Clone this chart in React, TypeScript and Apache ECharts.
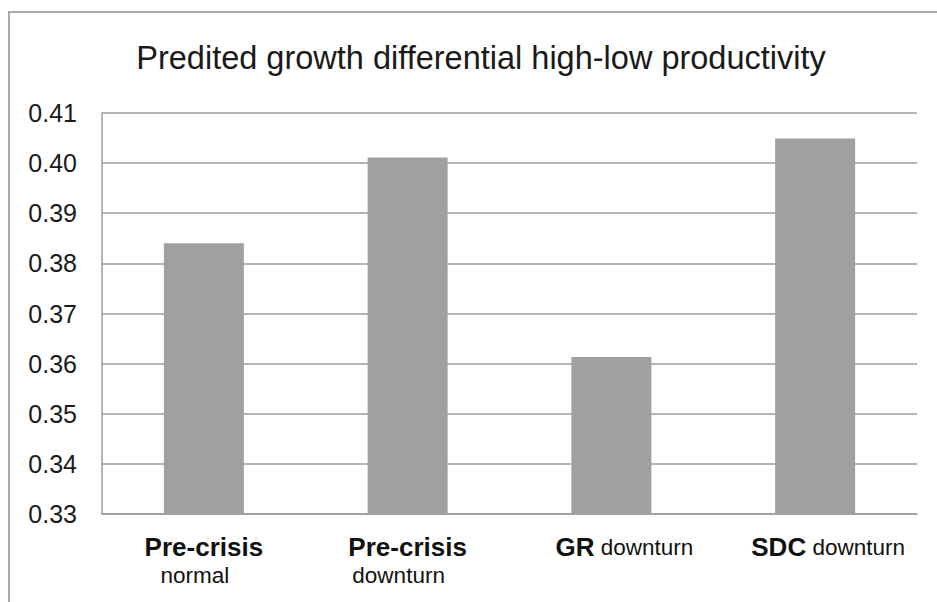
import React, { useEffect, useRef } from "react";
import * as echarts from "echarts";

const titleText = "Predited growth differential high-low productivity";
const categoriesBold = ["Pre-crisis", "Pre-crisis", "GR", "SDC"];
const categoriesRest = ["normal", "downturn", "downturn", "downturn"];
const values = [0.384, 0.4011, 0.3613, 0.4049];
const yMin = 0.33;
const yMax = 0.41;
const yStep = 0.01;

const FONT = "'Liberation Sans', Arial, Helvetica, sans-serif";
const GRAY = "#a0a0a0";
const LINE = "#9c9c9c";

export default function App() {
  const ref = useRef<HTMLDivElement>(null);
  useEffect(() => {
    if (!ref.current) return;
    const chart = echarts.init(ref.current, undefined, { renderer: "svg" });
    const cats = categoriesBold.map((b, i) => `${b}|${categoriesRest[i]}`);
    chart.setOption({
      animation: false,
      backgroundColor: "#ffffff",
      textStyle: { fontFamily: FONT },
      graphic: [
        {
          type: "rect",
          shape: { x: 9, y: 12, width: 1000, height: 700 },
          style: { fill: "none", stroke: "#a8a8a8", lineWidth: 2 },
          silent: true,
        },
        {
          type: "text",
          x: 481,
          y: 58,
          style: {
            text: titleText,
            fontFamily: FONT,
            fontSize: 32.5,
            fill: "#1a1a1a",
            textAlign: "center",
            textVerticalAlign: "middle",
          },
          silent: true,
        },
      ],
      grid: { left: 102, top: 113, right: 20, bottom: 88, containLabel: false },
      xAxis: {
        type: "category",
        data: cats,
        axisLine: { show: true, lineStyle: { color: LINE, width: 1.5 } },
        axisTick: { show: false },
        splitLine: { show: false },
        axisLabel: {
          margin: 19,
          interval: 0,
          formatter: (v: string, idx: number) => {
            const [b, r] = v.split("|");
            if (idx < 2) {
              return `{b|${b}}\n{r2|${r}}`;
            }
            return `{bs|${b}}{r|\u00a0${r}}`;
          },
          rich: {
            b: { fontFamily: FONT, fontSize: 26, fontWeight: "bold", color: "#111", lineHeight: 28, align: "center" },
            bs: { fontFamily: FONT, fontSize: 26, fontWeight: "bold", color: "#111", lineHeight: 28, align: "center", padding: [0, 0, 0, 26] },
            r: { fontFamily: FONT, fontSize: 22.5, color: "#111", lineHeight: 28, align: "center" },
            r2: { fontFamily: FONT, fontSize: 22.5, color: "#111", lineHeight: 28, align: "center", padding: [0, 18, 0, 0] },
          },
        },
      },
      yAxis: {
        type: "value",
        min: yMin,
        max: yMax,
        interval: yStep,
        axisLine: { show: true, lineStyle: { color: LINE, width: 1.5 } },
        axisTick: { show: false },
        splitLine: { show: true, lineStyle: { color: LINE, width: 1.5 } },
        axisLabel: {
          margin: 25,
          fontFamily: FONT,
          fontSize: 25,
          color: "#1a1a1a",
          formatter: (v: number) => v.toFixed(2),
        },
      },
      series: [
        {
          type: "bar",
          data: values,
          barWidth: 80,
          itemStyle: { color: GRAY },
        },
      ],
    });
    return () => chart.dispose();
  }, []);
  return (
    <div
      ref={ref}
      style={{ position: "fixed", left: 0, top: 0, width: 937, height: 602 }}
    />
  );
}
